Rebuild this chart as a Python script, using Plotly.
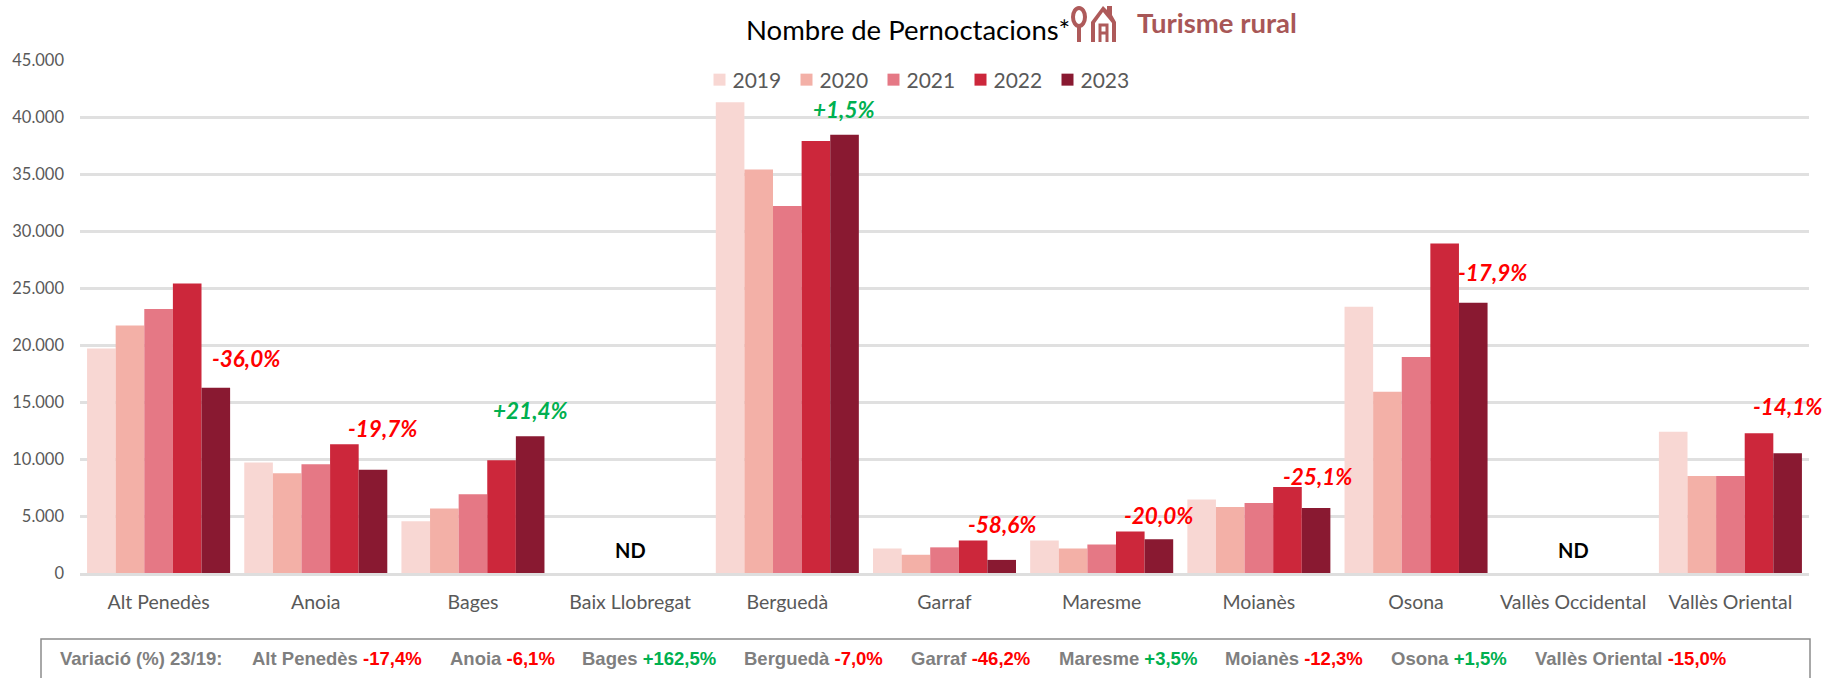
import plotly.graph_objects as go

W, H = 1837, 678
L, R, T, B = 80, 1809, 60, 573

categories = ["Alt Penedès", "Anoia", "Bages", "Baix Llobregat", "Berguedà", "Garraf",
              "Maresme", "Moianès", "Osona", "Vallès Occidental", "Vallès Oriental"]
v2019 = [19700, 9700, 4550, None, 41300, 2150, 2850, 6450, 23350, None, 12400]
v2020 = [21700, 8750, 5650, None, 35400, 1600, 2150, 5800, 15900, None, 8500]
v2021 = [23150, 9550, 6900, None, 32200, 2250, 2500, 6150, 18950, None, 8500]
v2022 = [25400, 11300, 9900, None, 37900, 2850, 3650, 7550, 28900, None, 12250]
v2023 = [16250, 9050, 12000, None, 38450, 1150, 2950, 5700, 23700, None, 10500]
series_names = ["2019", "2020", "2021", "2022", "2023"]
series_colors = ["#F8D7D3", "#F3B0A7", "#E57885", "#CC273B", "#891931"]

label_text = ["-36,0%", "-19,7%", "+21,4%", "+1,5%", "-58,6%", "-20,0%", "-25,1%", "-17,9%", "-14,1%"]
label_x = [0.553, 1.427, 2.363, 4.36, 5.363, 6.36, 7.375, 8.485, 10.363]
label_y = [18850, 12650, 14230, 40700, 4220, 5050, 8440, 26370, 14630]

nd_categories = ["Baix Llobregat", "Vallès Occidental"]

var_names = ["Alt Penedès", "Anoia", "Bages", "Berguedà", "Garraf", "Maresme", "Moianès", "Osona", "Vallès Oriental"]
var_values = ["-17,4%", "-6,1%", "+162,5%", "-7,0%", "-46,2%", "+3,5%", "-12,3%", "+1,5%", "-15,0%"]
var_px = [250, 448, 580, 742, 909, 1057, 1223, 1389, 1533]

RED, GREEN, GREY = "#FF0000", "#00B050", "#7F7F7F"
ICON = "#AE5A5A"


def px(x):
    return (x - L) / (R - L)


def py(y):
    return (B - y) / (B - T)


def path(*cmds):
    out = []
    for c in cmds:
        if isinstance(c, str):
            out.append(c)
        else:
            out.append(f"{px(c[0])},{py(c[1])}")
    return " ".join(out)


fig = go.Figure()
for name, vals, col in zip(series_names, [v2019, v2020, v2021, v2022, v2023], series_colors):
    fig.add_bar(name=name, x=categories, y=vals, marker=dict(color=col, line=dict(width=0)))

ann = []
for t, x, y in zip(label_text, label_x, label_y):
    ann.append(dict(x=x, y=y, xref="x", yref="y", text=f"<b><i>{t}</i></b>", showarrow=False,
                    font=dict(family="Lato", size=22.5, color=GREEN if t[0] == "+" else RED)))
for c in nd_categories:
    ann.append(dict(x=c, y=2050, xref="x", yref="y", text="<b>ND</b>", showarrow=False,
                    font=dict(family="Lato", size=20, color="#000000")))

ann.append(dict(x=px(744), y=py(30), xref="paper", yref="paper", xanchor="left", yanchor="middle",
                text="Nombre de Pernoctacions*", showarrow=False,
                font=dict(family="Lato", size=27.5, color="#000000")))
ann.append(dict(x=px(1135), y=py(23), xref="paper", yref="paper", xanchor="left", yanchor="middle",
                text="<b>Turisme rural</b>", showarrow=False,
                font=dict(family="Lato", size=27.5, color="#A85757")))

ann.append(dict(x=px(58), y=py(658), xref="paper", yref="paper", xanchor="left", yanchor="middle",
                text="<b>Variació (%) 23/19:</b>", showarrow=False,
                font=dict(family="Liberation Sans", size=18.5, color=GREY)))
for n, v, x in zip(var_names, var_values, var_px):
    c = GREEN if v[0] == "+" else RED
    ann.append(dict(x=px(x), y=py(658), xref="paper", yref="paper", xanchor="left", yanchor="middle",
                    text=f"<b>{n} <span style='color:{c}'>{v}</span></b>", showarrow=False,
                    font=dict(family="Liberation Sans", size=18.5, color=GREY)))

shapes = [
    # footer frame
    dict(type="path", xref="paper", yref="paper", line=dict(color="#8C8C8C", width=1.5),
         path=path("M", (41, 678), "L", (41, 639), "L", (1810, 639), "L", (1810, 678))),
    # pin icon
    dict(type="circle", xref="paper", yref="paper", line=dict(color=ICON, width=4),
         x0=px(1073), x1=px(1085), y0=py(8), y1=py(26)),
    dict(type="line", xref="paper", yref="paper", line=dict(color=ICON, width=4),
         x0=px(1079), x1=px(1079), y0=py(26), y1=py(42)),
    # house icon
    dict(type="path", xref="paper", yref="paper", fillcolor=ICON, line=dict(width=0),
         path=path("M", (1091, 42), "L", (1091, 22), "L", (1103, 6), "L", (1107, 10), "L", (1107, 6),
                   "L", (1112, 6), "L", (1112, 15), "L", (1116, 22), "L", (1116, 42), "Z")),
    dict(type="path", xref="paper", yref="paper", fillcolor="white", line=dict(width=0),
         path=path("M", (1095, 42), "L", (1095, 23), "L", (1103, 12), "L", (1112, 23), "L", (1112, 42), "Z")),
    dict(type="path", xref="paper", yref="paper", line=dict(color=ICON, width=3),
         path=path("M", (1100, 42), "L", (1100, 25), "L", (1107, 25), "L", (1107, 42), "M", (1100, 33), "L", (1107, 33))),
]

fig.update_layout(
    width=W, height=H, autosize=False,
    margin=dict(l=L, r=W - R, t=T, b=H - B, pad=0),
    paper_bgcolor="white", plot_bgcolor="white",
    barmode="group", bargap=0.09, bargroupgap=0,
    separators=",.",
    font=dict(family="Lato", color="#595959", size=16),
    legend=dict(orientation="h", x=px(917), xanchor="center", y=py(80), yanchor="middle",
                bgcolor="rgba(0,0,0,0)", font=dict(family="Lato", size=21, color="#595959"),
                entrywidth=42, entrywidthmode="pixels", itemclick=False, itemdoubleclick=False),
    xaxis=dict(range=[-0.5, 10.5], type="category", showgrid=False, showline=True, linecolor="#DEDEDE", linewidth=3,
               ticks="", tickfont=dict(family="Lato", size=19.5, color="#595959"), ticklabelstandoff=10),
    yaxis=dict(range=[0, 45000], dtick=5000, tickformat=",", showgrid=True, gridcolor="#E0E0E0", gridwidth=2.5,
               zeroline=False, ticks="", tickfont=dict(family="Lato", size=16.5, color="#595959"), ticklabelstandoff=15),
    annotations=ann, shapes=shapes,
)

post = """
document.body.style.margin='0';
setTimeout(function(){
  var sb=document.querySelector('.legend .scrollbox');
  if(sb){sb.removeAttribute('clip-path');}
  document.querySelectorAll('.legend .legendtext').forEach(function(t){t.setAttribute('x','33');});
},100);
"""
fig.write_html("out.html", post_script=post, config=dict(displayModeBar=False))
